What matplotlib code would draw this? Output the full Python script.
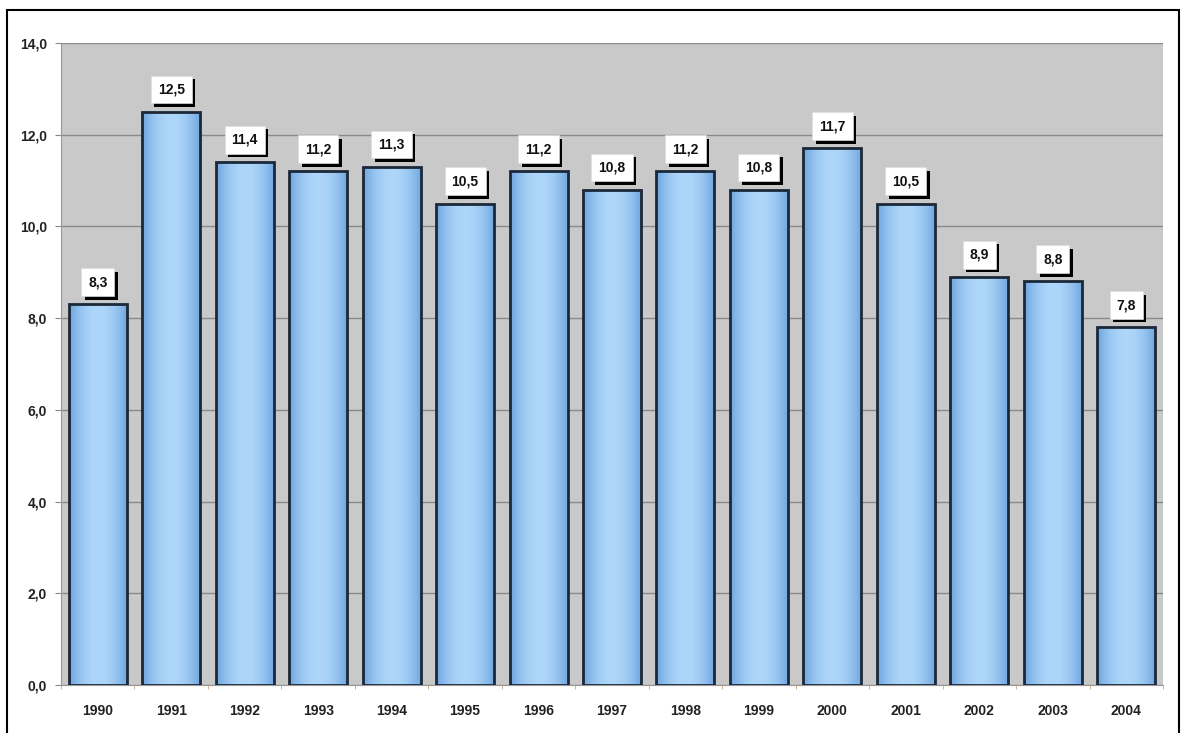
import numpy as np
import matplotlib.pyplot as plt
import matplotlib.patheffects as pe
from matplotlib.patches import Rectangle

# Data
years = ['1990', '1991', '1992', '1993', '1994', '1995', '1996', '1997',
         '1998', '1999', '2000', '2001', '2002', '2003', '2004']
values = [8.3, 12.5, 11.4, 11.2, 11.3, 10.5, 11.2, 10.8,
          11.2, 10.8, 11.7, 10.5, 8.9, 8.8, 7.8]
yticks = [0, 2, 4, 6, 8, 10, 12, 14]

plt.rcParams['font.family'] = ['Liberation Sans', 'DejaVu Sans']

fig = plt.figure(figsize=(11.84, 7.33), dpi=100)
ax = fig.add_axes([61 / 1184, 1 - 685 / 733, 1102 / 1184, 642 / 733])
ax.set_facecolor('#c9c9c9')

# outer frame
fig.patches.append(Rectangle((7 / 1184, -0.05), 1172 / 1184, 1.05 - 10 / 733,
                             transform=fig.transFigure, fill=False,
                             edgecolor='black', linewidth=1.5))

x = np.arange(len(years))
width = 0.79

# horizontal gradient for the bars
grad = np.linspace(0, 1, 200)
shade = 1 - (2 * grad - 1) ** 2
c_edge = np.array([0.42, 0.64, 0.87])
c_mid = np.array([0.68, 0.84, 0.98])
img = c_edge[None, None, :] + (c_mid - c_edge)[None, None, :] * shade[None, :, None]
img = np.repeat(img, 2, axis=0)

bars = ax.bar(x, values, width=width, color='none', edgecolor='#1c2838',
              linewidth=2, zorder=3)
for b in bars:
    x0, y0 = b.get_x(), b.get_y()
    w, h = b.get_width(), b.get_height()
    im = ax.imshow(img, extent=[x0, x0 + w, y0, y0 + h], aspect='auto',
                   zorder=2, origin='lower')
    im.set_clip_path(b)

# value labels in white boxes with a black drop shadow
for xi, v in zip(x, values):
    lab = f'{v:.1f}'.replace('.', ',')
    t = ax.annotate(lab, (xi, v), xytext=(0, 11), textcoords='offset points',
                    ha='center', va='bottom', fontsize=10, fontweight='bold',
                    color='#111111', zorder=5,
                    bbox=dict(boxstyle='square,pad=0.5', fc='white',
                              ec='#dddddd', lw=0.5))
    t.get_bbox_patch().set_path_effects([
        pe.SimplePatchShadow(offset=(2.5, -2.5), shadow_rgbFace='black', alpha=1),
        pe.Normal()])

ax.set_xlim(-0.5, len(years) - 0.5)
ax.set_ylim(0, 14)
ax.set_yticks(yticks)
ax.set_yticklabels([f'{t:.1f}'.replace('.', ',') for t in yticks],
                   fontsize=10, fontweight='bold', color='#222222')
ax.set_xticks(x)
ax.set_xticklabels(years, fontsize=10, fontweight='bold', color='#222222')
ax.tick_params(axis='x', length=0, pad=14)
ax.set_xticks(np.arange(len(years) + 1) - 0.5, minor=True)
ax.tick_params(axis='x', which='minor', length=3, color='#d9a070')
ax.tick_params(axis='y', length=4, color='#888888', pad=6)
ax.yaxis.grid(True, color='#8a8a8a', linewidth=1, zorder=1)
ax.set_axisbelow(True)
for s in ['top', 'right']:
    ax.spines[s].set_visible(False)
ax.spines['left'].set_color('#999999')
ax.spines['bottom'].set_color('#999999')

fig.savefig('out.png', dpi=100)
